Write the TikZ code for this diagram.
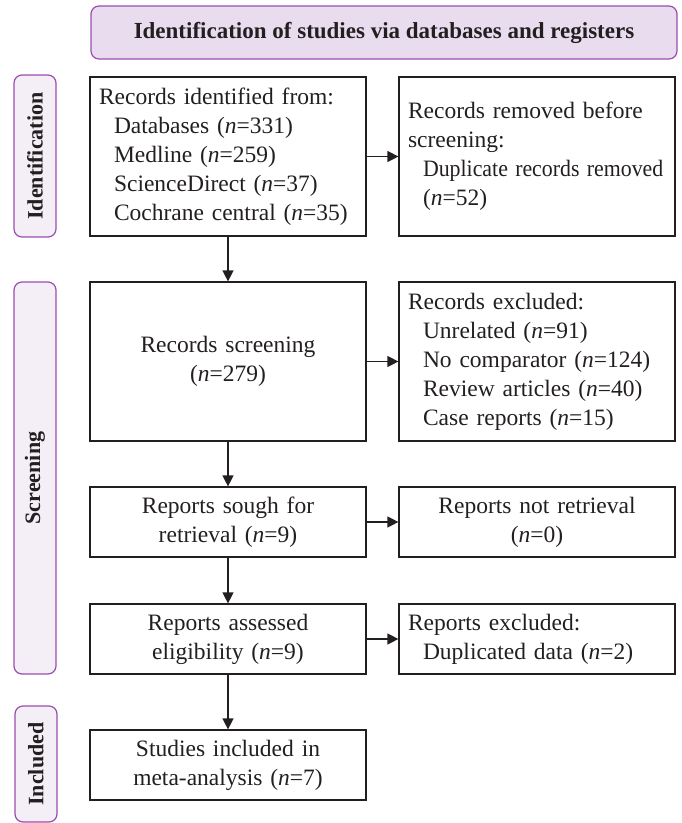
\documentclass[tikz,border=0pt]{standalone}
\usepackage{fontspec}
\setmainfont{Liberation Serif}
\usetikzlibrary{arrows.meta}
\definecolor{hdrfill}{HTML}{E8DCEE}
\definecolor{sidefill}{HTML}{F4EEF7}
\definecolor{purp}{HTML}{9B4DAF}
\definecolor{ink}{HTML}{231F20}
\newcommand{\ind}{\hspace*{15pt}}
\newcommand{\nn}{\textit{n}}
\begin{document}
\begin{tikzpicture}[x=1pt,y=-1pt,
  hdr/.style={draw=purp, line width=1.2pt, fill=hdrfill, rounded corners=8pt,
    minimum width=586pt, minimum height=53pt, inner sep=0pt, text=ink,
    font=\fontsize{23}{28}\selectfont\bfseries},
  side/.style={draw=purp, line width=1.2pt, fill=sidefill, rounded corners=8pt,
    rotate=90, minimum height=42pt, inner sep=0pt, text=ink,
    font=\fontsize{22}{28}\selectfont\bfseries},
  box/.style={draw=ink, line width=1.2pt, minimum width=276pt, inner xsep=9pt,
    inner ysep=0pt, text width=258pt, text=ink,
    font=\fontsize{23.5}{29}\selectfont},
  lbox/.style={box, align=left},
  cbox/.style={box, align=center},
  arr/.style={draw=ink, line width=1.2pt, -{Triangle[length=11pt,width=11pt]}}
]
\useasboundingbox (0,0) rectangle (681,823);

\node[hdr] (hdr) at (384,32.5) {Identification of studies via databases and registers};

\node[side, minimum width=162pt] (sid) at (35,156) {Identification};
\node[side, minimum width=392pt] (sscr) at (35,478) {Screening};
\node[side, minimum width=116pt] (sinc) at (36,764) {Included};

\node[lbox, minimum height=159pt] (b1) at (228,156.5) {Records identified from:\\
\ind Databases (\nn=331)\\
\ind Medline (\nn=259)\\
\ind ScienceDirect (\nn=37)\\
\ind Cochrane central (\nn=35)};

\node[lbox, minimum height=159pt] (r1) at (537,156.5) {Records removed before\\
screening:\\
\ind\scalebox{0.93}[1]{Duplicate records removed}\\
\ind(\nn=52)};

\node[cbox, minimum height=159pt] (b2) at (228,361.5) {Records screening\\(\nn=279)};

\node[lbox, minimum height=159pt] (r2) at (537,361.5) {Records excluded:\\
\ind Unrelated (\nn=91)\\
\ind No comparator (\nn=124)\\
\ind Review articles (\nn=40)\\
\ind Case reports (\nn=15)};

\node[cbox, minimum height=70pt] (b3) at (228,522) {Reports sough for\\retrieval (\nn=9)};
\node[cbox, minimum height=70pt] (r3) at (537,522) {Reports not retrieval\\(\nn=0)};

\node[cbox, minimum height=70pt] (b4) at (228,639) {Reports assessed\\eligibility (\nn=9)};
\node[lbox, minimum height=70pt] (r4) at (537,639) {Reports excluded:\\
\ind Duplicated data (\nn=2)};

\node[cbox, minimum height=70pt] (b5) at (228,765) {Studies included in\\meta-analysis (\nn=7)};

\draw[arr] (b1) -- (b2);
\draw[arr] (b2) -- (b3);
\draw[arr] (b3) -- (b4);
\draw[arr] (b4) -- (b5);
\draw[arr] (b1) -- (r1);
\draw[arr] (b2) -- (r2);
\draw[arr] (b3) -- (r3);
\draw[arr] (b4) -- (r4);
\end{tikzpicture}
\end{document}
